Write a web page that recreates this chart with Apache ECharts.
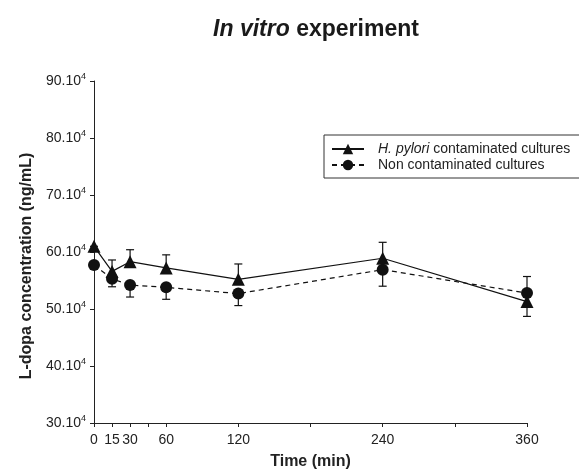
<!DOCTYPE html>
<html>
<head>
<meta charset="utf-8">
<script src="https://cdn.jsdelivr.net/npm/echarts@6/dist/echarts.min.js"></script>
<style>html,body{margin:0;padding:0;background:#fff}#c{width:579px;height:475px}</style>
</head>
<body>
<div id="c"></div>
<script>
// Data (concentration in units of 10^4 ng/mL)
const times = [0, 15, 30, 60, 120, 240, 360];
const hpylori = [61.0, 56.6, 58.3, 57.2, 55.2, 58.9, 51.3];
const hpyloriErr = [0, 2.0, 2.1, 2.3, 2.7, 2.8, -2.6];   // signed: + drawn upward, - downward
const nonCont = [57.7, 55.3, 54.2, 53.8, 52.7, 56.9, 52.8];
const nonContErr = [0, -1.4, -2.1, -2.1, -2.1, -2.9, 2.9];
const xTickValues = [0, 15, 30, 45, 60, 120, 180, 240, 300, 360];
const xLabelValues = [0, 15, 30, 60, 120, 240, 360];

const ink = '#111';
const font = 'Liberation Sans, Arial, sans-serif';
const chart = echarts.init(document.getElementById('c'));

function errSeries(vals, errs) {
  return {
    type: 'custom',
    silent: true,
    z: 1,
    data: times.map((t, i) => [t, vals[i], vals[i] + errs[i]]),
    renderItem: function (params, api) {
      const p0 = api.coord([api.value(0), api.value(1)]);
      const p1 = api.coord([api.value(0), api.value(2)]);
      const w = 4;
      return {
        type: 'group',
        children: [
          { type: 'line', shape: { x1: p0[0], y1: p0[1], x2: p1[0], y2: p1[1] }, style: { stroke: ink, lineWidth: 1.2 } },
          { type: 'line', shape: { x1: p1[0] - w, y1: p1[1], x2: p1[0] + w, y2: p1[1] }, style: { stroke: ink, lineWidth: 1.2 } }
        ]
      };
    }
  };
}

const option = {
  animation: false,
  backgroundColor: '#fff',
  textStyle: { fontFamily: font },
  title: {
    text: '{i|In vitro}{b| experiment}',
    left: 311,
    textAlign: 'center',
    top: 13,
    textStyle: {
      rich: {
        i: { fontSize: 23, fontWeight: 'bold', fontStyle: 'italic', color: '#1a1a1a', fontFamily: font },
        b: { fontSize: 23, fontWeight: 'bold', color: '#1a1a1a', fontFamily: font }
      }
    }
  },
  legend: {
    orient: 'vertical',
    left: 324,
    top: 135,
    padding: [7, 12, 6, 7],
    itemGap: 2,
    itemWidth: 32,
    itemHeight: 13,
    borderColor: '#333',
    borderWidth: 1,
    borderRadius: 0,
    data: ['H. pylori contaminated cultures', 'Non contaminated cultures'],
    formatter: function (name) {
      if (name.indexOf('H. pylori') === 0) return '{i|H. pylori} contaminated cultures';
      return name;
    },
    textStyle: {
      fontSize: 14,
      color: '#222',
      padding: [0, 0, 0, 9],
      rich: { i: { fontStyle: 'italic', fontSize: 14, color: '#222' } }
    }
  },
  grid: { left: 94, right: 52, top: 81, bottom: 44, containLabel: false },
  xAxis: {
    type: 'value',
    min: 0,
    max: 360,
    name: 'Time (min)',
    nameLocation: 'middle',
    nameGap: 31,
    nameTextStyle: { fontSize: 16, fontWeight: 'bold', color: '#222' },
    splitLine: { show: false },
    axisLine: { lineStyle: { color: '#222', width: 1 } },
    axisTick: { customValues: xTickValues, length: 4, lineStyle: { color: '#222' } },
    axisLabel: { customValues: xLabelValues, fontSize: 14, color: '#222', margin: 10 }
  },
  yAxis: {
    type: 'value',
    min: 30,
    max: 90,
    interval: 10,
    name: 'L-dopa concentration (ng/mL)',
    nameLocation: 'middle',
    nameGap: 56,
    nameTextStyle: { fontSize: 16, fontWeight: 'bold', color: '#222', padding: [0, 28, 0, 0] },
    splitLine: { show: false },
    axisLine: { show: true, lineStyle: { color: '#222', width: 1 } },
    axisTick: { show: true, length: 4, lineStyle: { color: '#222' } },
    axisLabel: {
      margin: 8,
      formatter: function (v) { return '{a|' + v + '.10}{s|4}'; },
      rich: {
        a: { fontSize: 14, color: '#222' },
        s: { fontSize: 9, color: '#222', padding: [0, 0, 8, 0] }
      }
    }
  },
  series: [
    errSeries(hpylori, hpyloriErr),
    errSeries(nonCont, nonContErr),
    {
      name: 'H. pylori contaminated cultures',
      type: 'line',
      z: 3,
      data: times.map((t, i) => [t, hpylori[i]]),
      symbol: 'triangle',
      symbolSize: 13,
      itemStyle: { color: ink },
      lineStyle: { color: ink, width: 1.2, type: 'solid' }
    },
    {
      name: 'Non contaminated cultures',
      type: 'line',
      z: 2,
      data: times.map((t, i) => [t, nonCont[i]]),
      symbol: 'circle',
      symbolSize: 12,
      itemStyle: { color: ink },
      lineStyle: { color: ink, width: 1.2, type: [5, 4] }
    }
  ]
};
chart.setOption(option);
</script>
</body>
</html>
